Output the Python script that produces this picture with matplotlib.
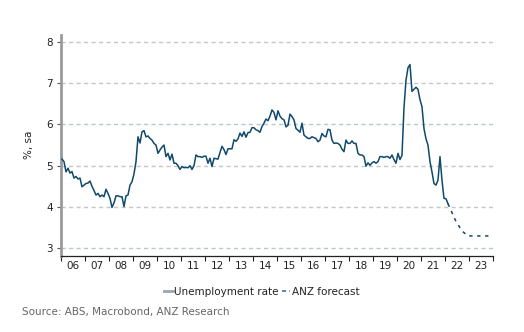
import matplotlib
matplotlib.use("Agg")
import matplotlib.pyplot as plt
from matplotlib.lines import Line2D
import numpy as np

# Monthly unemployment rate, Jan 2006 - Feb 2022 (%, sa)
rate_2006 = [5.16, 5.10, 4.85, 4.94, 4.82, 4.86, 4.70, 4.74, 4.68, 4.70, 4.49, 4.53]
rate_2007 = [4.57, 4.58, 4.63, 4.50, 4.40, 4.29, 4.33, 4.25, 4.29, 4.25, 4.43, 4.33]
rate_2008 = [4.21, 3.99, 4.10, 4.27, 4.27, 4.25, 4.25, 4.01, 4.27, 4.29, 4.53, 4.61]
rate_2009 = [4.80, 5.10, 5.70, 5.55, 5.82, 5.85, 5.70, 5.72, 5.66, 5.62, 5.54, 5.50]
rate_2010 = [5.30, 5.38, 5.45, 5.50, 5.22, 5.30, 5.14, 5.28, 5.06, 5.06, 5.00, 4.91]
rate_2011 = [4.98, 4.95, 4.96, 4.95, 5.00, 4.91, 5.00, 5.26, 5.22, 5.22, 5.20, 5.23]
rate_2012 = [5.23, 5.06, 5.18, 4.98, 5.18, 5.17, 5.16, 5.32, 5.47, 5.39, 5.27, 5.41]
rate_2013 = [5.41, 5.41, 5.63, 5.59, 5.65, 5.79, 5.71, 5.82, 5.69, 5.80, 5.81, 5.92]
rate_2014 = [5.92, 5.87, 5.85, 5.81, 5.95, 6.03, 6.13, 6.09, 6.20, 6.35, 6.29, 6.11]
rate_2015 = [6.33, 6.20, 6.14, 6.11, 5.94, 5.98, 6.25, 6.19, 6.11, 5.90, 5.86, 5.81]
rate_2016 = [6.03, 5.74, 5.70, 5.66, 5.66, 5.70, 5.68, 5.66, 5.58, 5.62, 5.78, 5.72]
rate_2017 = [5.70, 5.88, 5.87, 5.62, 5.54, 5.55, 5.54, 5.50, 5.40, 5.34, 5.62, 5.54]
rate_2018 = [5.54, 5.60, 5.54, 5.54, 5.30, 5.26, 5.26, 5.22, 4.99, 5.07, 5.01, 5.07]
rate_2019 = [5.10, 5.06, 5.10, 5.22, 5.22, 5.20, 5.22, 5.22, 5.18, 5.26, 5.15, 5.06]
rate_2020 = [5.30, 5.15, 5.25, 6.40, 7.07, 7.37, 7.45, 6.80, 6.85, 6.90, 6.85, 6.60]
rate_2021 = [6.43, 5.90, 5.65, 5.50, 5.10, 4.85, 4.57, 4.53, 4.65, 5.22, 4.65, 4.21]
rate_2022 = [4.20, 4.08]

unemployment = (rate_2006 + rate_2007 + rate_2008 + rate_2009 + rate_2010 + rate_2011
                + rate_2012 + rate_2013 + rate_2014 + rate_2015 + rate_2016 + rate_2017
                + rate_2018 + rate_2019 + rate_2020 + rate_2021 + rate_2022)
start_year = 2006

# ANZ forecast (year, month, value)
forecast_year = [2022, 2022, 2022, 2022, 2023, 2023, 2023, 2023]
forecast_month = [2, 6, 9, 12, 3, 6, 9, 12]
forecast_value = [4.08, 3.65, 3.42, 3.30, 3.30, 3.30, 3.30, 3.30]

year_labels = ["06", "07", "08", "09", "10", "11", "12", "13", "14",
               "15", "16", "17", "18", "19", "20", "21", "22", "23"]
y_ticks = [3, 4, 5, 6, 7, 8]

def month_pos(y, m):
    return y + (m - 0.5) / 12.0

x_act = [start_year + (i + 0.5) / 12.0 for i in range(len(unemployment))]
x_fc = [month_pos(y, m) for y, m in zip(forecast_year, forecast_month)]

plt.rcParams['font.family'] = ['DejaVu Sans']
fig = plt.figure(figsize=(5.24, 3.32), dpi=100)
ax = fig.add_axes([0.1164, 0.2304, 0.8244, 0.6642])

line_col = '#0f4a6b'
for v in y_ticks:
    gc = '#b8c8cd' if v in (3, 6) else '#c6c6c6'
    ax.axhline(v, color=gc, lw=1.0, ls=(0, (3.0, 2.4)), zorder=1)

ax.plot(x_act, unemployment, color=line_col, lw=1.1, zorder=3)
ax.plot(x_fc, forecast_value, color=line_col, lw=1.1, ls=(0, (2.2, 3)), zorder=3)

ax.set_xlim(2006, 2024)
ax.set_ylim(2.826, 8.165)

ax.set_yticks(y_ticks)
ax.set_yticklabels([str(v) for v in y_ticks], fontsize=7.5, color='#222222')
ax.set_xticks(np.arange(2006, 2025))
ax.set_xticklabels([])
ax.set_xticks(np.arange(2006.5, 2024), minor=True)
ax.set_xticklabels(year_labels, minor=True, fontsize=7.5, color='#222222')
ax.tick_params(axis='x', which='major', length=3.5, width=0.8, color='#222222', direction='out')
ax.tick_params(axis='x', which='minor', length=0, pad=4)
ax.tick_params(axis='y', length=3, width=0.8, color='#555555', pad=3)

for s in ['top', 'right']:
    ax.spines[s].set_visible(False)
ax.spines['left'].set_color('#9a9a9a')
ax.spines['left'].set_linewidth(2.0)
ax.spines['bottom'].set_color('#222222')
ax.spines['bottom'].set_linewidth(0.9)

ax.set_ylabel('%, sa', fontsize=7.5, color='#222222', labelpad=9)

handles = [Line2D([0], [0], color='#97a7b3', lw=2),
           Line2D([0], [0], color='#5f8fb0', lw=1.5, ls=(0, (2, 1.5)))]
fig.legend(handles, ['Unemployment rate', 'ANZ forecast'], loc='center',
           bbox_to_anchor=(0.5, 0.121), ncol=2, frameon=False, fontsize=7.5,
           handlelength=0.8, handletextpad=0.15, columnspacing=0.3,
           labelcolor='#222222')

fig.text(0.042, 0.06, 'Source: ABS, Macrobond, ANZ Research', fontsize=7.5,
         color='#666666', ha='left', va='center')

fig.savefig('out.png', dpi=100)
